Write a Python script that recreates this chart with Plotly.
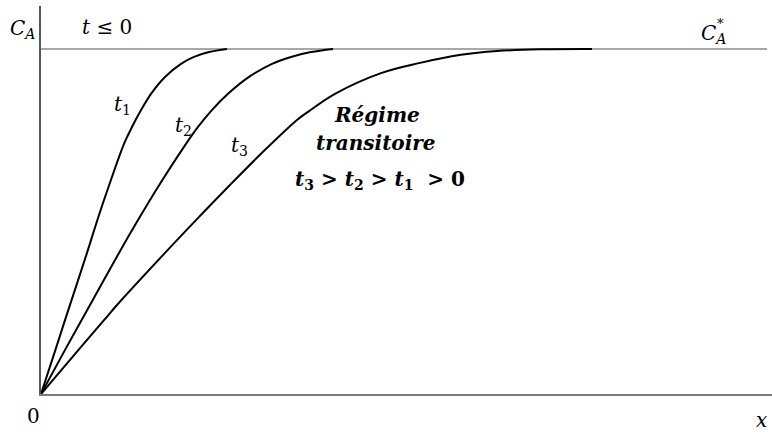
import plotly.graph_objects as go

# distance from the wall (arbitrary units) and reduced concentration C_A / C_A*
x_t1 = [0.0, 0.15, 0.24, 0.46, 0.58, 0.675, 0.83, 0.91, 0.995, 1.10, 1.24, 1.40, 1.53, 1.68, 1.86]
c_t1 = [0.0, 0.133, 0.214, 0.409, 0.519, 0.600, 0.725, 0.774, 0.820, 0.870, 0.919, 0.957, 0.977, 0.991, 1.0]

x_t2 = [0.0, 0.25, 0.49, 0.78, 0.97, 1.17, 1.45, 1.57, 1.70, 1.87, 2.08, 2.31, 2.50, 2.70, 2.92]
c_t2 = [0.0, 0.133, 0.258, 0.409, 0.504, 0.600, 0.725, 0.774, 0.820, 0.870, 0.919, 0.957, 0.977, 0.991, 1.0]

x_t3 = [0.0, 0.39, 0.63, 0.76, 1.24, 1.55, 1.87, 2.21, 2.56, 2.68, 2.94, 3.40, 3.78, 4.20, 4.56, 4.99, 5.51]
c_t3 = [0.0, 0.133, 0.214, 0.258, 0.409, 0.504, 0.600, 0.699, 0.794, 0.820, 0.870, 0.930, 0.959, 0.983, 0.994, 0.999, 1.0]

x_eq = [0.0, 7.26]
c_eq = [1.0, 1.0]

FONT = "DejaVu Serif"

fig = go.Figure()

fig.add_trace(go.Scatter(x=x_eq, y=c_eq, mode="lines",
                         line=dict(color="#8a8a8a", width=1.6)))
for xs, cs in [(x_t1, c_t1), (x_t2, c_t2), (x_t3, c_t3)]:
    fig.add_trace(go.Scatter(x=xs, y=cs, mode="lines",
                             line=dict(color="black", width=2, shape="spline", smoothing=1.0)))

# labels inside the plot area (data coordinates)
labels = [
    (0.66, 1.064, "<i>t</i> ≤ 0"),
    (0.81, 0.838, "<i>t</i><sub>1</sub>"),
    (1.42, 0.777, "<i>t</i><sub>2</sub>"),
    (1.98, 0.719, "<i>t</i><sub>3</sub>"),
    (3.36, 0.809, "<b><i>Régime</i></b>"),
    (3.35, 0.728, "<b><i>transitoire</i></b>"),
    (3.39, 0.62, "<b><i>t</i><sub>3</sub> &gt; <i>t</i><sub>2</sub> &gt; <i>t</i><sub>1</sub>  &gt; 0</b>"),
]
for lx, ly, txt in labels:
    fig.add_annotation(x=lx, y=ly, text=txt, showarrow=False,
                       xanchor="center", yanchor="middle",
                       font=dict(family=FONT, size=20, color="black"))

# labels around the axes (paper coordinates)
outer = [
    (-0.025, 0.941, "<i>C<sub>A</sub></i>", 20),
    (0.920, 0.928, "<i>C<sub>A</sub></i>", 20),
    (0.929, 0.955, "*", 13),
    (-0.0096, -0.057, "0", 20),
    (0.986, -0.067, "<i>x</i>", 20),
]
for lx, ly, txt, sz in outer:
    fig.add_annotation(x=lx, y=ly, xref="paper", yref="paper", text=txt, showarrow=False,
                       xanchor="center", yanchor="middle",
                       font=dict(family=FONT, size=sz, color="black"))

fig.update_layout(
    width=772,
    height=432,
    margin=dict(l=41, r=0, t=6, b=38),
    plot_bgcolor="white",
    paper_bgcolor="white",
    showlegend=False,
    xaxis=dict(range=[0, 7.31], showgrid=False, zeroline=False, showticklabels=False,
               ticks="", showline=True, linecolor="#7a7a7a", linewidth=1.6),
    yaxis=dict(range=[0, 1.1246], showgrid=False, zeroline=False, showticklabels=False,
               ticks="", showline=True, linecolor="#555555", linewidth=1.6),
)

fig.write_html("out.html", config={"displayModeBar": False},
               post_script="document.body.style.margin='0';")
